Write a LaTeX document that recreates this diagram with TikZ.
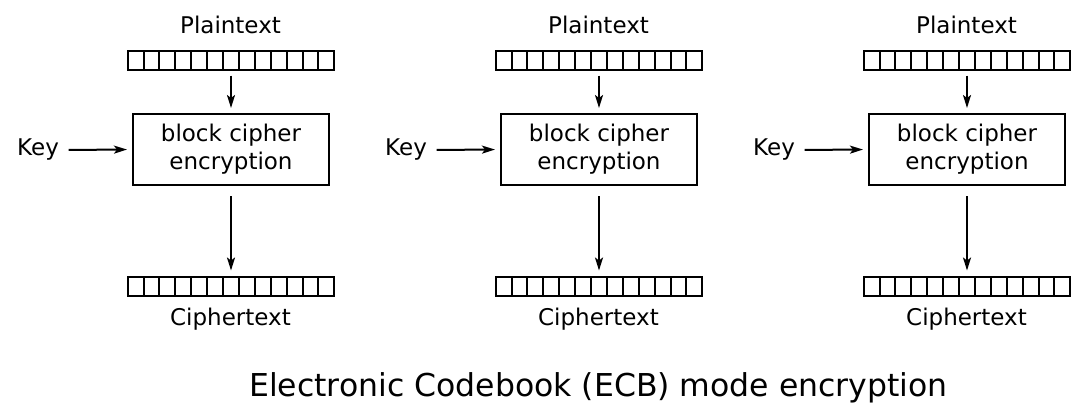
\documentclass[tikz,border=0pt]{standalone}
\usepackage{fontspec}
\setmainfont{DejaVu Sans}
\usetikzlibrary{arrows.meta}
\begin{document}
\begin{tikzpicture}[x=1pt,y=-1pt,
  reg/.style={draw, line width=2pt, minimum width=206.7pt, minimum height=19pt, inner sep=0pt, outer sep=0pt},
  cellline/.style={line width=2pt},
  cipherbox/.style={draw, line width=2pt, minimum width=196pt, minimum height=71pt, inner sep=0pt, outer sep=0pt, align=center, font=\fontsize{23}{28}\selectfont},
  lbl/.style={font=\fontsize{23}{28}\selectfont, inner sep=0pt},
  arr/.style={line width=2pt, -{Stealth[length=13pt,width=8pt,inset=3pt]}, shorten <=6pt, shorten >=6pt}
]
\useasboundingbox (0,0) rectangle (1086,410);
\foreach \dx/\n in {0/a,368/b,736/c}{
  \node[lbl, anchor=base] (pl\n) at (230.5+\dx,33) {Plaintext};
  \node[reg] (pt\n) at (231+\dx,60) {};
  \foreach \i in {1,...,12}{
    \draw[cellline] ([xshift=15.9*\i pt]pt\n.north west) -- ([xshift=15.9*\i pt]pt\n.south west);
  }
  \node[cipherbox] (bc\n) at (231+\dx,149.5) {block cipher\\encryption};
  \node[lbl] (key\n) at (38+\dx,150) {Key};
  \node[reg] (ct\n) at (231+\dx,286) {};
  \foreach \i in {1,...,12}{
    \draw[cellline] ([xshift=15.9*\i pt]ct\n.north west) -- ([xshift=15.9*\i pt]ct\n.south west);
  }
  \node[lbl, anchor=base] (cl\n) at (230.5+\dx,325) {Ciphertext};
  \draw[arr] (pt\n) -- (bc\n);
  \draw[arr, shorten <=11pt] (bc\n) -- (ct\n);
  \draw[arr, shorten <=9.5pt] (key\n.east) -- (bc\n.west);
}
\node[font=\fontsize{31.5}{36}\selectfont, inner sep=0pt, anchor=base] (title) at (598.5,396) {Electronic Codebook (ECB) mode encryption};
\end{tikzpicture}
\end{document}
